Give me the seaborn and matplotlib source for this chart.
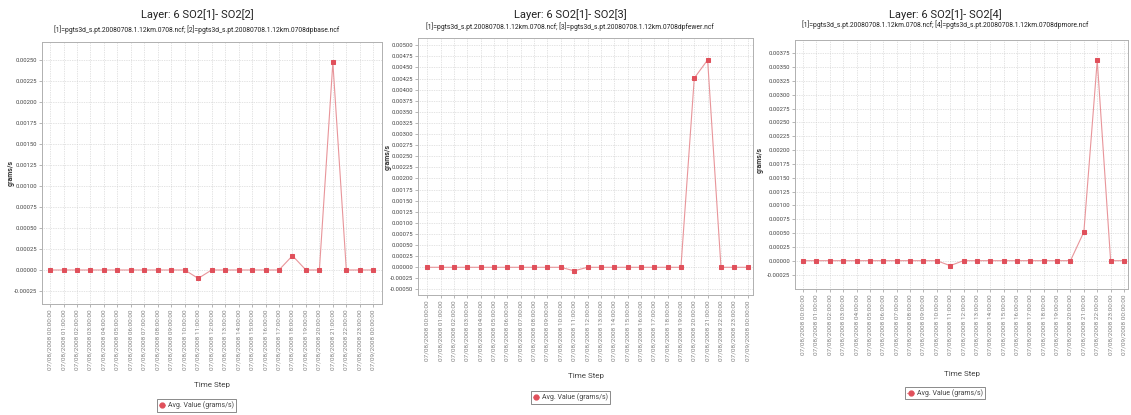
import matplotlib
matplotlib.use("Agg")
import matplotlib.pyplot as plt
import matplotlib.ticker as mticker
from matplotlib.lines import Line2D
import numpy as np
import pandas as pd
import seaborn as sns

# ---- data -------------------------------------------------------------
time_labels = (["07/08/2008 %02d:00:00" % h for h in range(24)]
               + ["07/09/2008 00:00:00"])

diff_dpbase = [0, 0, 0, 0, 0, 0, 0, 0, 0, 0, 0, -0.0001, 0, 0, 0, 0, 0, 0,
               0.00017, 0, 0, 0.00247, 0, 0, 0]
diff_dpfewer = [0, 0, 0, 0, 0, 0, 0, 0, 0, 0, 0, -0.00008, 0, 0, 0, 0, 0, 0,
                0, 0, 0.00426, 0.00467, 0, 0, 0]
diff_dpmore = [0, 0, 0, 0, 0, 0, 0, 0, 0, 0, 0, -0.00009, 0, 0, 0, 0, 0, 0,
               0, 0, 0, 0.00052, 0.00362, 0, 0]

titles = ["Layer: 6 SO2[1]- SO2[2]", "Layer: 6 SO2[1]- SO2[3]",
          "Layer: 6 SO2[1]- SO2[4]"]
subtitles = [
    "[1]=pgts3d_s.pt.20080708.1.12km.0708.ncf; [2]=pgts3d_s.pt.20080708.1.12km.0708dpbase.ncf",
    "[1]=pgts3d_s.pt.20080708.1.12km.0708.ncf; [3]=pgts3d_s.pt.20080708.1.12km.0708dpfewer.ncf",
    "[1]=pgts3d_s.pt.20080708.1.12km.0708.ncf; [4]=pgts3d_s.pt.20080708.1.12km.0708dpmore.ncf",
]
series_label = "Avg. Value (grams/s)"
y_label = "grams/s"
x_label = "Time Step"

# ---- layout (pixel boxes, converted to figure fractions) --------------
W, H = 1131, 415
panels = [
    dict(data=diff_dpbase, box=(42, 42, 382, 304), xlim=(-0.6, 24.65),
         ylim=(-0.000405, 0.002714), yt=(-0.00025, 0.0025),
         title_x=197, title_y=15, sub_y=30, ylab=(11, 173),
         xlab_y=385, leg=(196.5, 405.5)),
    dict(data=diff_dpfewer, box=(418, 38, 753, 295), xlim=(-0.7, 24.4),
         ylim=(-0.000624, 0.005164), yt=(-0.0005, 0.005),
         title_x=570, title_y=15, sub_y=27, ylab=(388, 157),
         xlab_y=376, leg=(570.5, 397.5)),
    dict(data=diff_dpmore, box=(795, 40, 1128, 289), xlim=(-0.6, 24.3),
         ylim=(-0.000512, 0.00399), yt=(-0.00025, 0.00375),
         title_x=945, title_y=15, sub_y=25, ylab=(760, 160),
         xlab_y=374, leg=(945, 393)),
]

sns.set_theme(style="white")
plt.rcParams["font.family"] = ["Roboto", "DejaVu Sans"]

line_color = "#e8959a"
marker_color = "#e0505b"
grid_color = "#c9c9c9"

fig = plt.figure(figsize=(W / 100, H / 100), dpi=100)
fig.patch.set_facecolor("white")

x_idx = np.arange(len(time_labels))

for p, title, sub in zip(panels, titles, subtitles):
    l, t, r, b = p["box"]
    ax = fig.add_axes([l / W, 1 - b / H, (r - l) / W, (b - t) / H])
    df = pd.DataFrame({"step": x_idx, "value": p["data"]})
    sns.lineplot(data=df, x="step", y="value", ax=ax, color=line_color,
                 linewidth=0.8, marker="s", markersize=3.3,
                 markerfacecolor=marker_color, markeredgecolor=marker_color,
                 legend=False)

    ax.set_xlim(*p["xlim"])
    ax.set_ylim(*p["ylim"])
    ax.set_xticks(x_idx)
    ax.set_xticklabels(time_labels, rotation=90, fontsize=4.6,
                       color="#808080")
    lo, hi = p["yt"]
    ax.set_yticks(np.arange(lo, hi + 1e-9, 0.00025))
    ax.yaxis.set_major_formatter(mticker.FormatStrFormatter("%.5f"))
    ax.tick_params(axis="y", labelsize=4.2, labelcolor="#444444",
                   length=2, width=0.5, color="#999999", pad=1.5, left=True)
    ax.tick_params(axis="x", length=2, width=0.5, color="#999999", pad=2,
                   bottom=True)
    ax.grid(True, color=grid_color, linestyle=(0, (1, 1.5)), linewidth=0.5)
    ax.set_axisbelow(True)
    for s in ax.spines.values():
        s.set_color("#b0b0b0")
        s.set_linewidth(0.7)
    ax.set_xlabel("")
    ax.set_ylabel("")

    fig.text(p["title_x"] / W, 1 - p["title_y"] / H, title, ha="center",
             va="center", fontsize=8.0, color="#222222")
    fig.text(p["title_x"] / W, 1 - p["sub_y"] / H, sub, ha="center",
             va="center", fontsize=4.9, color="#222222")
    fig.text(p["ylab"][0] / W, 1 - p["ylab"][1] / H, y_label, rotation=90,
             ha="center", va="center", fontsize=5.0, fontweight="bold",
             color="#333333")
    fig.text((l + r) / 2 / W, 1 - p["xlab_y"] / H, x_label, ha="center",
             va="center", fontsize=5.8, color="#444444")

    handle = Line2D([], [], color=line_color, linewidth=0.8, marker="o",
                    markersize=3.5, markerfacecolor=marker_color,
                    markeredgecolor=marker_color)
    leg = ax.legend([handle], [series_label], loc="center",
                    bbox_to_anchor=(p["leg"][0] / W, 1 - p["leg"][1] / H),
                    bbox_transform=fig.transFigure, fontsize=5.0,
                    frameon=True, fancybox=False, handlelength=0.9,
                    handletextpad=0.4, borderpad=0.35, labelcolor="#444444")
    leg.get_frame().set_edgecolor("#555555")
    leg.get_frame().set_linewidth(0.6)

fig.savefig("out.png", dpi=100, facecolor="white")
